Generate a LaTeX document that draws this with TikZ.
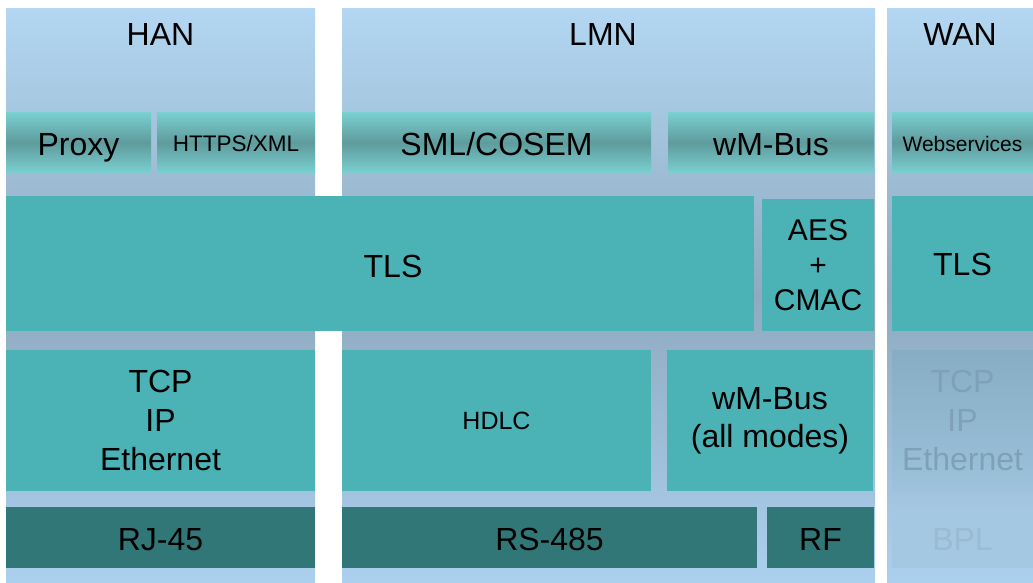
\documentclass[tikz,border=0pt]{standalone}
\usepackage{fontspec}
\setmainfont{Liberation Sans}
\usepackage{xcolor}
\definecolor{bgtop}{HTML}{B3D7F2}
\definecolor{bgmid}{HTML}{8FAAC0}
\definecolor{bgbot}{HTML}{ABD0EE}
\definecolor{protoedge}{HTML}{7BD0D1}
\definecolor{protomid}{HTML}{5F9B9D}
\definecolor{tealmain}{HTML}{4BB2B6}
\definecolor{darkteal}{HTML}{327778}
\definecolor{fadetop}{HTML}{86ADC3}
\definecolor{fadebot}{HTML}{9CC2DC}
\definecolor{fadetext}{HTML}{7FA1B8}
\definecolor{phyfade}{HTML}{A4C8E2}
\definecolor{phyfadetext}{HTML}{9BBBD5}
\tikzset{
  big/.style={font=\fontsize{32}{38}\selectfont},
  small/.style={font=\fontsize{22.5}{27}\selectfont},
  oneline/.style={text height=#1, text depth=0pt},
  oneline/.default=23pt,
  layer/.style={inner sep=0pt, align=center, text=black},
  proto/.style={layer, top color=protoedge, bottom color=protoedge, middle color=protomid},
  secure/.style={layer, fill=tealmain},
  phy/.style={layer, oneline=25pt, fill=darkteal},
}
\begin{document}
\begin{tikzpicture}[x=1pt, y=-1pt]
  \useasboundingbox[fill=white] (0,0) rectangle (1033,582);

  % network columns
  \shade[top color=bgtop, bottom color=bgbot, middle color=bgmid] (6,8) rectangle (315,582);
  \shade[top color=bgtop, bottom color=bgbot, middle color=bgmid] (342,8) rectangle (875,582);
  \shade[top color=bgtop, bottom color=bgbot, middle color=bgmid] (887,8) rectangle (1033,582);
  \node[big, oneline] (han) at (160.5,34) {HAN};
  \node[big, oneline] (lmn) at (603,34) {LMN};
  \node[big, oneline] (wan) at (960,34) {WAN};

  % application layer
  \node[proto, big, oneline=25pt, minimum width=145, minimum height=61] (proxy) at (78.5,142.5) {Proxy};
  \node[proto, small, oneline=18.2pt, minimum width=158, minimum height=61] (https) at (236,142.5) {HTTPS/XML};
  \node[proto, big, oneline=25pt, minimum width=309, minimum height=61] (sml) at (496.5,142.5) {SML/COSEM};
  \node[proto, big, oneline=25pt, minimum width=206, minimum height=61] (wmbus) at (771,142.5) {wM-Bus};
  \node[proto, font=\fontsize{21}{25}\selectfont, oneline=17.1pt, minimum width=141, minimum height=61] (websvc) at (962.5,142.5) {Webservices};

  % security layer
  \node[secure, minimum width=748, minimum height=135] (tls) at (380,263.5) {};
  \node[big, oneline] (tlstext) at (393,266) {TLS};
  \node[secure, font=\fontsize{30}{35}\selectfont, minimum width=112, minimum height=132] (aes) at (818,265) {AES\\+\\CMAC};
  \node[secure, big, oneline, minimum width=141, minimum height=135] (wantls) at (962.5,263.5) {TLS};

  % transport layer
  \node[secure, font=\fontsize{32}{39}\selectfont, minimum width=309, minimum height=141] (tcp) at (160.5,420.5) {TCP\\IP\\Ethernet};
  \node[secure, oneline=18pt, font=\fontsize{25}{30}\selectfont, minimum width=309, minimum height=141] (hdlc) at (496.5,420.5) {HDLC};
  \node[secure, big, minimum width=206, minimum height=141] (wmbusall) at (770,420.5) {wM-Bus\\(all modes)};
  \node[layer, top color=fadetop, bottom color=fadebot, text=fadetext, font=\fontsize{32}{39}\selectfont,
        minimum width=141, minimum height=141] (wantcp) at (962.5,420.5) {TCP\\IP\\Ethernet};

  % physical layer
  \node[phy, big, minimum width=309, minimum height=61] (rj) at (160.5,537.5) {RJ-45};
  \node[phy, big, minimum width=415, minimum height=61] (rs) at (549.5,537.5) {RS-485};
  \node[phy, big, minimum width=107, minimum height=61] (rf) at (820.5,537.5) {RF};
  \node[layer, oneline=25pt, fill=phyfade, text=phyfadetext, big, minimum width=141, minimum height=61] (bpl) at (962.5,537.5) {BPL};
\end{tikzpicture}
\end{document}
